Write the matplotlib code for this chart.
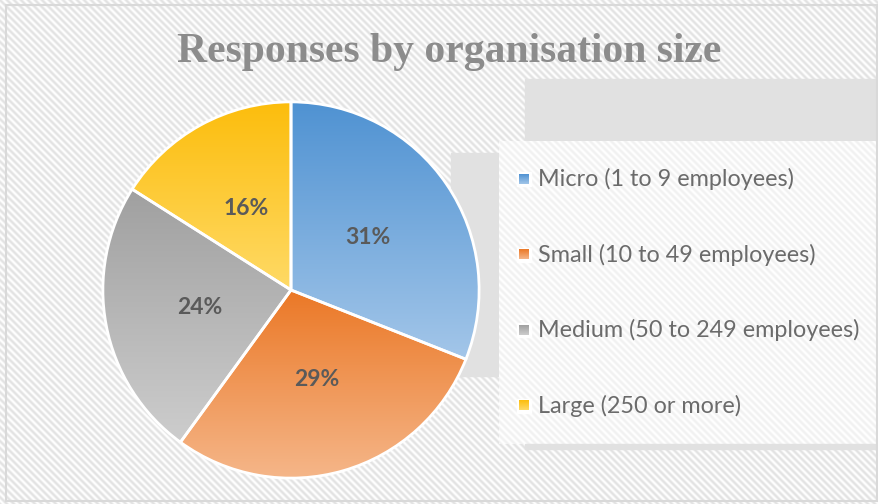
import numpy as np
import matplotlib
matplotlib.use("Agg")
import matplotlib.pyplot as plt
from matplotlib.patches import Rectangle

W, H = 879, 504

TITLE = "Responses by organisation size"
CATEGORIES = ["Micro (1 to 9 employees)", "Small (10 to 49 employees)",
              "Medium (50 to 249 employees)", "Large (250 or more)"]
SHARES = [31, 29, 24, 16]
# gradient ends per slice: top colour, bottom colour
TOP_COLORS = ["#4f92d2", "#eb7826", "#a0a0a0", "#fcbd0c"]
BOTTOM_COLORS = ["#a3c6e9", "#f5b689", "#cdcdcd", "#ffda66"]


def hex2rgb(h):
    return np.array([int(h[i:i + 2], 16) / 255 for i in (1, 3, 5)])


def gradient(top, bottom, n=256):
    t = np.linspace(0, 1, n)[:, None, None]
    return (1 - t) * hex2rgb(top) + t * hex2rgb(bottom)


def stripes(w, h, light, dark, period=7.0):
    jj, ii = np.meshgrid(np.arange(w), np.arange(h))
    s = 0.5 + 0.5 * np.cos(2 * np.pi * (jj - ii) / period)
    return (1 - s)[..., None] * hex2rgb(light) + s[..., None] * hex2rgb(dark)


fig = plt.figure(figsize=(W / 100, H / 100), dpi=100)

# background layer in pixel coordinates
bg = fig.add_axes([0, 0, 1, 1])
bg.set_xlim(0, W)
bg.set_ylim(H, 0)
bg.axis("off")
bg.imshow(stripes(W, H, "#ffffff", "#e2e2e2"), extent=(0, W, H, 0),
          aspect="auto", interpolation="bilinear", zorder=0)

# legend boxes
bg.add_patch(Rectangle((525, 79), W - 525, 62, color="#e1e1e1", zorder=1))
bg.add_patch(Rectangle((451, 153), 48, 223, color="#e1e1e1", zorder=1))
bg.imshow(stripes(378, 303, "#ffffff", "#f1f1f1"), extent=(499, 877, 444, 141),
          aspect="auto", interpolation="bilinear", zorder=2)
bg.add_patch(Rectangle((525, 444), 352, 5, color="#e1e1e1", zorder=2))
bg.add_patch(Rectangle((6, 5), 871, 496, fill=False, edgecolor="#d9d9d9",
                       linewidth=1.5, zorder=3))
bg.set_xlim(0, W)
bg.set_ylim(H, 0)

bg.text(449, 62, TITLE, ha="center", va="baseline", fontsize=30,
        fontweight="bold", family="Liberation Serif", color="#8c8c8c", zorder=4)

# legend entries
for i, (label, top, bottom) in enumerate(zip(CATEGORIES, TOP_COLORS, BOTTOM_COLORS)):
    yc = 179 + i * 75.5
    bg.add_patch(Rectangle((517, yc - 7), 14, 14, color="white", zorder=4))
    bg.imshow(gradient(top, bottom), extent=(519, 529, yc + 5, yc - 5),
              aspect="auto", zorder=5)
    bg.text(538, yc, label, ha="left", va="center", fontsize=16.8,
            family="Lato", color="#6b6b6b", zorder=5)
bg.set_xlim(0, W)
bg.set_ylim(H, 0)

# pie
cx, cy, r = 291, 290, 190
pax = fig.add_axes([(cx - r) / W, (H - cy - r) / H, 2 * r / W, 2 * r / H])
pax.axis("off")
wedges, _, autotexts = pax.pie(SHARES, startangle=90, counterclock=False,
                               autopct="%1.0f%%", pctdistance=0.495,
                               colors=["none"] * 4,
                               wedgeprops=dict(edgecolor="white", linewidth=2),
                               textprops=dict(fontsize=16.5, fontweight="bold",
                                              family="Lato", color="#5a5a5a"))
for w, top, bottom in zip(wedges, TOP_COLORS, BOTTOM_COLORS):
    ext = w.get_path().get_extents()
    im = pax.imshow(gradient(top, bottom), extent=(ext.x0, ext.x1, ext.y0, ext.y1),
                    aspect="auto", zorder=0.5)
    im.set_clip_path(w)
    w.set_zorder(1)
for t in autotexts:
    t.set_zorder(3)
pax.set_xlim(-1.01, 1.01)
pax.set_ylim(-1.01, 1.01)

fig.savefig("out.png", dpi=100)
